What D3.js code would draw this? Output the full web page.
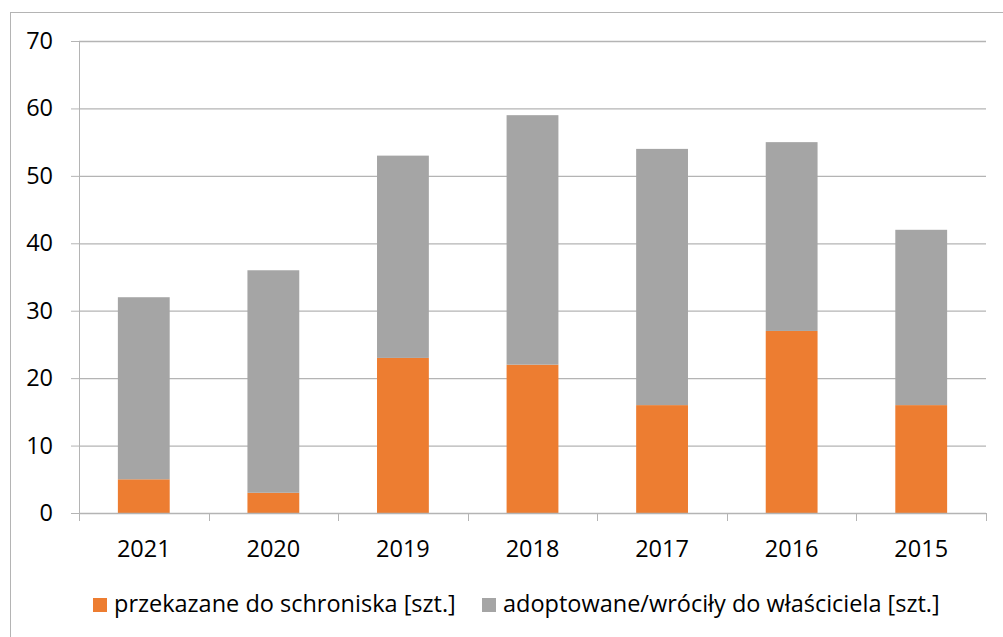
<!DOCTYPE html>
<html>
<head>
<meta charset="utf-8">
<script src="https://cdn.jsdelivr.net/npm/d3@7"></script>
<style>
  body { margin: 0; background: #fff; }
  svg { display: block; font-family: "Open Sans", Lato, sans-serif; }
</style>
</head>
<body>
<div id="chart"></div>
<script>
var years = ['2021', '2020', '2019', '2018', '2017', '2016', '2015'];
var przekazane = [5, 3, 23, 22, 16, 27, 16];
var adoptowane = [27, 33, 30, 37, 38, 28, 26];
var yTicks = [0, 10, 20, 30, 40, 50, 60, 70];
var seriesNames = ['przekazane do schroniska [szt.]', 'adoptowane/wróciły do właściciela [szt.]'];
var seriesColors = ['#ED7D31', '#A5A5A5'];

var width = 1003, height = 637;
var margin = { left: 79, right: 17, top: 41, bottom: 124 };
var axisFont = '23.5px';
var legendFont = '23.5px';

var svg = d3.select('#chart').append('svg')
  .attr('width', width)
  .attr('height', height);

// outer frame (cut off on right and bottom like the reference)
svg.append('rect')
  .attr('x', 10.5).attr('y', 12.5)
  .attr('width', 1010).attr('height', 640)
  .attr('fill', 'none')
  .attr('stroke', '#b4b4b4')
  .attr('stroke-width', 1);

var x = d3.scaleBand()
  .domain(years)
  .range([margin.left, width - margin.right])
  .paddingInner(0.6)
  .paddingOuter(0.3);

var y = d3.scaleLinear()
  .domain([0, 70])
  .range([height - margin.bottom, margin.top]);

var rows = years.map(function (yr, i) {
  return { year: yr, przekazane: przekazane[i], adoptowane: adoptowane[i] };
});
var stack = d3.stack().keys(['przekazane', 'adoptowane'])(rows);

// y axis + labels
svg.append('g')
  .attr('transform', 'translate(' + margin.left + ',0)')
  .call(d3.axisLeft(y).tickValues(yTicks).tickSize(8).tickPadding(18))
  .call(function (g) {
    g.select('.domain').attr('stroke', '#b4b4b4');
    g.selectAll('.tick line').attr('stroke', '#b4b4b4');
    g.selectAll('.tick text').attr('fill', '#000')
      .style('font-family', '"Open Sans", sans-serif')
      .style('font-size', axisFont);
  });

// gridlines
svg.append('g').selectAll('line')
  .data(yTicks.filter(function (d) { return d > 0; }))
  .join('line')
  .attr('x1', margin.left).attr('x2', width - margin.right)
  .attr('y1', function (d) { return y(d) + 0.5; })
  .attr('y2', function (d) { return y(d) + 0.5; })
  .attr('stroke', '#b4b4b4')
  .attr('stroke-width', 1.3);

// bars
svg.append('g').selectAll('g')
  .data(stack)
  .join('g')
  .attr('fill', function (d, i) { return seriesColors[i]; })
  .selectAll('rect')
  .data(function (d) { return d; })
  .join('rect')
  .attr('x', function (d) { return x(d.data.year); })
  .attr('y', function (d) { return y(d[1]); })
  .attr('width', x.bandwidth())
  .attr('height', function (d) { return y(d[0]) - y(d[1]); });

// x axis
var xBounds = d3.range(years.length + 1).map(function (i) {
  return margin.left + i * (width - margin.right - margin.left) / years.length;
});
var xAxisG = svg.append('g');
xAxisG.append('line')
  .attr('x1', margin.left).attr('x2', width - margin.right)
  .attr('y1', y(0) + 0.5).attr('y2', y(0) + 0.5)
  .attr('stroke', '#b4b4b4').attr('stroke-width', 1.3);
xAxisG.selectAll('line.tk')
  .data(xBounds)
  .join('line')
  .attr('class', 'tk')
  .attr('x1', function (d) { return Math.round(d) + 0.5; })
  .attr('x2', function (d) { return Math.round(d) + 0.5; })
  .attr('y1', y(0)).attr('y2', y(0) + 8)
  .attr('stroke', '#b4b4b4');
xAxisG.selectAll('text')
  .data(years)
  .join('text')
  .attr('x', function (d) { return x(d) + x.bandwidth() / 2; })
  .attr('y', y(0) + 44)
  .attr('text-anchor', 'middle')
  .style('font-size', axisFont)
  .text(function (d) { return d; });

// legend
var legendX = [93, 482];
var legend = svg.append('g').selectAll('g')
  .data(seriesNames)
  .join('g')
  .attr('transform', function (d, i) { return 'translate(' + legendX[i] + ',598)'; });
legend.append('rect')
  .attr('width', 14).attr('height', 14)
  .attr('fill', function (d, i) { return seriesColors[i]; });
legend.append('text')
  .attr('x', 21).attr('y', 14)
  .style('font-size', legendFont)
  .text(function (d) { return d; });
</script>
</body>
</html>
